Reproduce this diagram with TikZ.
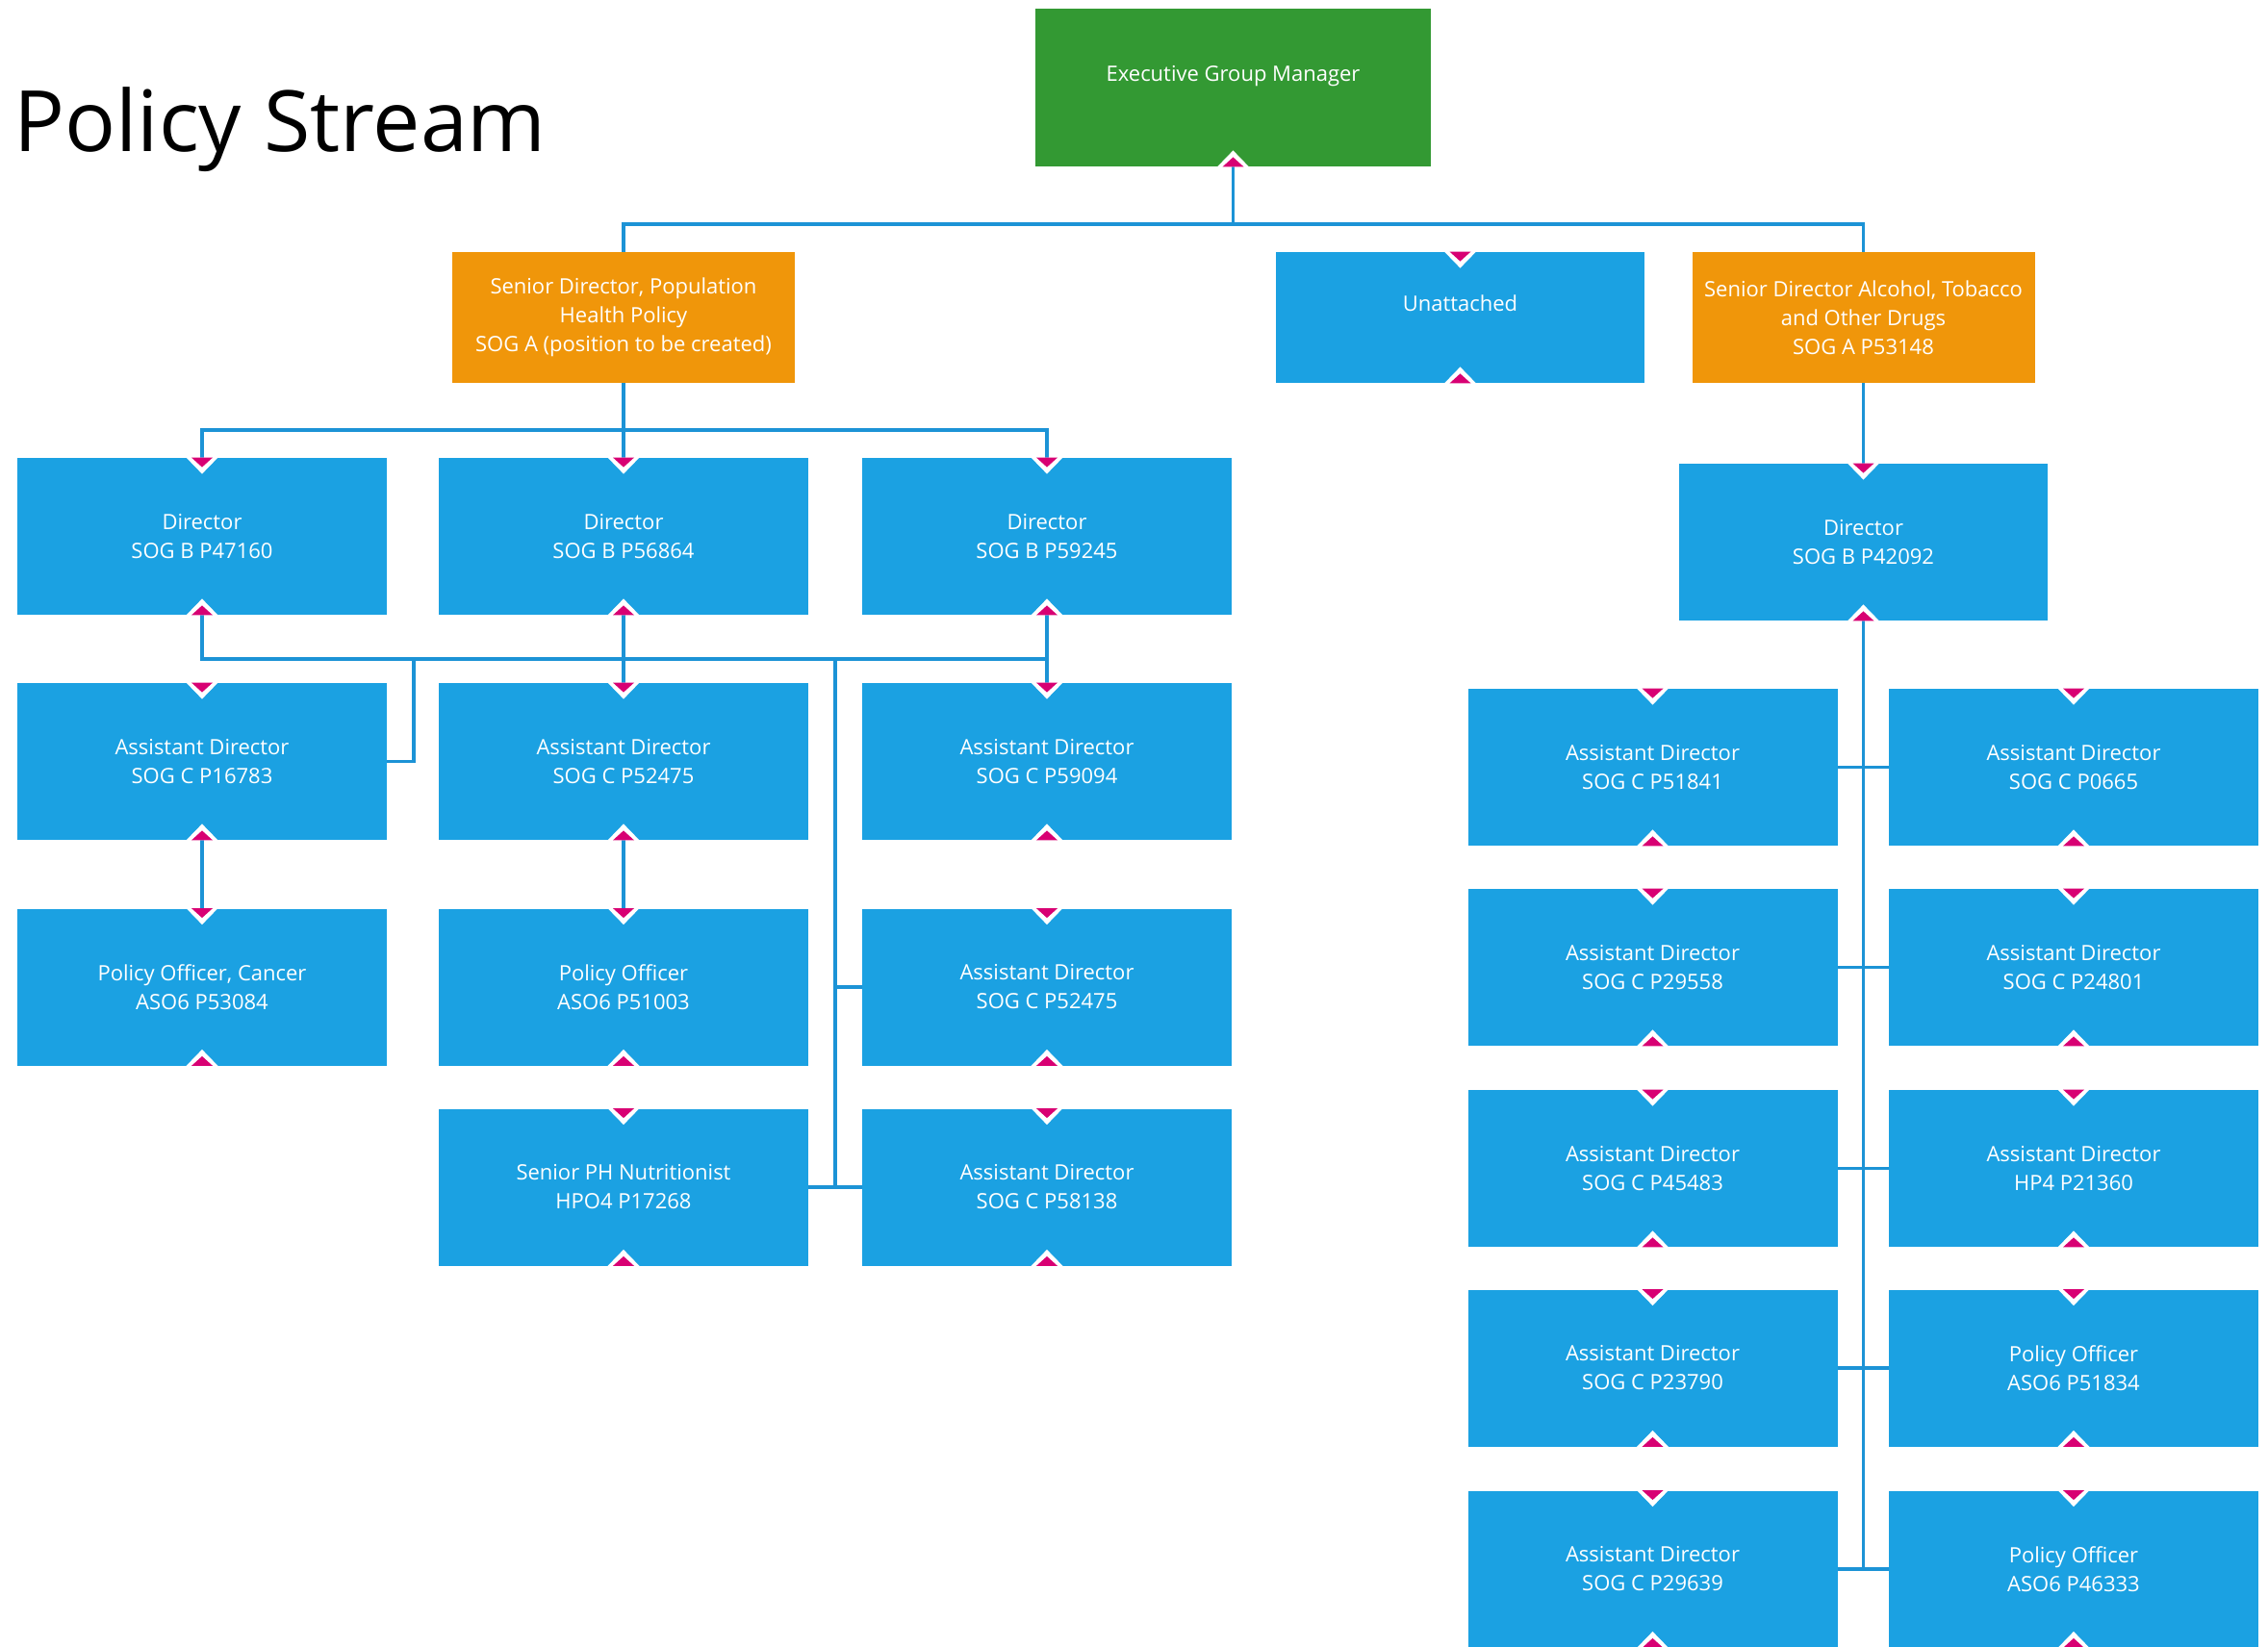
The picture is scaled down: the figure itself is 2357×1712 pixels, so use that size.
\documentclass[tikz,border=0pt]{standalone}
\usepackage{fontspec}
\setmainfont{Open Sans}
\definecolor{boxblue}{HTML}{1BA1E2}
\definecolor{linkblue}{HTML}{1C93D6}
\definecolor{boxgreen}{HTML}{339933}
\definecolor{boxorange}{HTML}{F0960A}
\definecolor{markpink}{HTML}{D80073}
\newcommand\trdown[1]{%
  \fill[white] ([xshift=-8.25pt]#1.north) -- ([yshift=-8.5pt]#1.north) -- ([xshift=8.25pt]#1.north) -- cycle;
  \fill[markpink] ([xshift=-5.5pt]#1.north) -- ([yshift=-5pt]#1.north) -- ([xshift=5.5pt]#1.north) -- cycle;}
\newcommand\trup[1]{%
  \fill[white] ([xshift=-8.25pt]#1.south) -- ([yshift=8.5pt]#1.south) -- ([xshift=8.25pt]#1.south) -- cycle;
  \fill[markpink] ([xshift=-5.5pt]#1.south) -- ([yshift=5pt]#1.south) -- ([xshift=5.5pt]#1.south) -- cycle;}
\begin{document}
\begin{tikzpicture}[x=0.5pt,y=-0.5pt,
  box/.style={fill=boxblue, text=white, inner sep=0pt, align=center,
    minimum width=192pt, minimum height=81.5pt,
    font=\fontsize{11}{15}\selectfont},
  topbox/.style={box, minimum width=178pt, minimum height=68pt, fill=boxorange},
  conn/.style={draw=linkblue, line width=1.75pt}]
\useasboundingbox (0,0) rectangle (2357,1712);

\node[anchor=base west, inner sep=0pt, font=\fontsize{44}{50}\selectfont] (title) at (14,158) {Policy Stream};

% top levels
\node[box, fill=boxgreen, minimum width=205.5pt, minimum height=82pt] (egm) at (1281.5,91) {Executive Group Manager\\\phantom{X}};
\node[topbox] (sdp) at (648,330) {Senior Director, Population\\Health Policy\\SOG A (position to be created)};
\node[box, minimum width=191.5pt, minimum height=68pt] (un) at (1517.5,330) {Unattached\\\phantom{X}};
\node[topbox] (sda) at (1936.5,330) {Senior Director Alcohol, Tobacco\\and Other Drugs\\SOG A P53148};

% left grid
\node[box] (d1) at (210,557.5) {Director\\SOG B P47160};
\node[box] (d2) at (648,557.5) {Director\\SOG B P56864};
\node[box] (d3) at (1088,557.5) {Director\\SOG B P59245};
\node[box] (a1) at (210,791.5) {Assistant Director\\SOG C P16783};
\node[box] (a2) at (648,791.5) {Assistant Director\\SOG C P52475};
\node[box] (a3) at (1088,791.5) {Assistant Director\\SOG C P59094};
\node[box] (p1) at (210,1026) {Policy Officer, Cancer\\ASO6 P53084};
\node[box] (p2) at (648,1026) {Policy Officer\\ASO6 P51003};
\node[box] (a5) at (1088,1026) {Assistant Director\\SOG C P52475};
\node[box] (n1) at (648,1234) {Senior PH Nutritionist\\HPO4 P17268};
\node[box] (a6) at (1088,1234) {Assistant Director\\SOG C P58138};

% right grid
\node[box, minimum width=191.5pt] (dr) at (1936.5,563.5) {Director\\SOG B P42092};
\node[box] (l1) at (1717.5,797.5) {Assistant Director\\SOG C P51841};
\node[box] (r1) at (2155,797.5) {Assistant Director\\SOG C P0665};
\node[box] (l2) at (1717.5,1005.5) {Assistant Director\\SOG C P29558};
\node[box] (r2) at (2155,1005.5) {Assistant Director\\SOG C P24801};
\node[box] (l3) at (1717.5,1214.5) {Assistant Director\\SOG C P45483};
\node[box] (r3) at (2155,1214.5) {Assistant Director\\HP4 P21360};
\node[box] (l4) at (1717.5,1422) {Assistant Director\\SOG C P23790};
\node[box] (r4) at (2155,1422) {Policy Officer\\ASO6 P51834};
\node[box] (l5) at (1717.5,1631) {Assistant Director\\SOG C P29639};
\node[box] (r5) at (2155,1631) {Policy Officer\\ASO6 P46333};

% junction coordinates
\coordinate (bus1) at (1281.5,233);
\coordinate (bus2) at (648,447);
\coordinate (bus3) at (648,685);
\coordinate (j1) at (430,685);
\coordinate (j2) at (868,685);

% connectors
\draw[conn] (sdp.north) |- (bus1) -| (sda.north);
\draw[conn] (egm.south) -- (egm.south |- bus1);
\draw[conn] (sdp.south) -- (d2.north);
\draw[conn] (d1.north) |- (bus2) -| (d3.north);
\draw[conn] (d1.south) |- (bus3) -| (d3.south);
\draw[conn] (d2.south) -- (a2.north);
\draw[conn] (d3.south) -- (a3.north);
\draw[conn] (j1) |- (a1.east);
\draw[conn] (j2) |- (a5.west);
\draw[conn] (j2) -- (j2 |- a6.west);
\draw[conn] (n1.east) -- (a6.west);
\draw[conn] (a1.south) -- (p1.north);
\draw[conn] (a2.south) -- (p2.north);
\draw[conn] (sda.south) -- (dr.north);
\draw[conn] (dr.south) -- (dr.south |- l5.east);
\foreach \i in {1,...,5} {\draw[conn] (l\i.east) -- (r\i.west);}

% markers
\trup{egm}
\foreach \n in {un,d1,d2,d3,a1,a2,a3,p1,p2,a5,n1,a6,dr,l1,r1,l2,r2,l3,r3,l4,r4,l5,r5} {\trdown{\n}\trup{\n}}
\end{tikzpicture}
\end{document}
